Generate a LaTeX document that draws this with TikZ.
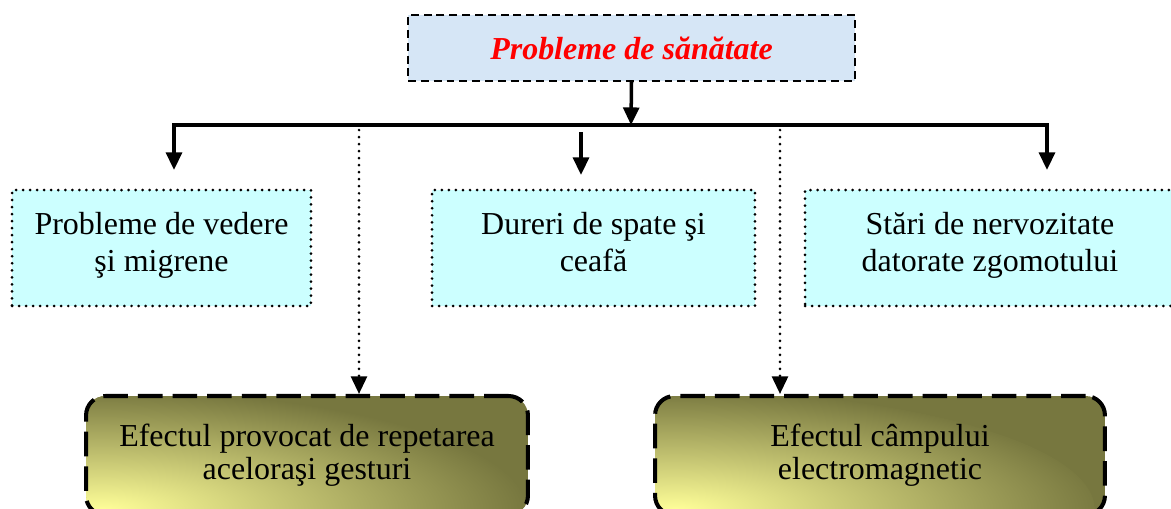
\documentclass[tikz,border=0pt]{standalone}
\usepackage{fontspec}
\setmainfont{Liberation Serif}
\usetikzlibrary{positioning,arrows.meta,calc}
\definecolor{lightcyan}{HTML}{CCFFFF}
\definecolor{paleblue}{HTML}{D6E6F6}
\definecolor{olivebox}{HTML}{77773F}
\definecolor{paleyellow}{HTML}{FFFF99}

\begin{document}
\begin{tikzpicture}[x=0.02cm, y=-0.02cm,
    every node/.style={font=\fontsize{18.2}{21}\selectfont, align=center},
    arr/.style={line width=2pt, -{Triangle[length=10pt,width=9pt]}},
    dotarr/.style={line width=1.7pt, line cap=round, dash pattern=on 0pt off 4pt, -{Triangle[length=10pt,width=9pt]}},
    titlebox/.style={draw, fill=paleblue, line width=1.2pt, dash pattern=on 4.5pt off 2.8pt, minimum width=8.94cm, minimum height=1.32cm},
    cyanbox/.style={draw, fill=lightcyan, line width=1.7pt, line cap=round, dash pattern=on 0pt off 4pt, minimum height=2.32cm, text depth=7pt},
    effectbox/.style={draw, fill=olivebox, line width=2.3pt, dash pattern=on 14pt off 5.7pt, rounded corners=11pt, minimum height=2.38cm, font=\fontsize{18.2}{19}\selectfont, text depth=4pt,
      path picture={\shade[inner color=paleyellow, outer color=olivebox]
        ($(path picture bounding box.south west)+(0.3cm,0.1cm)$) ellipse (8.5cm and 2.4cm);}}]
      \useasboundingbox (0,0) rectangle (1171,508);

      \node[titlebox] (title) at (631.5,48) {\textcolor{red}{\textbf{\textit{Probleme de sănătate}}}};

      \node[cyanbox, minimum width=5.98cm] (vedere) at (161.5,248) {Probleme de vedere\\ şi migrene};
      \node[cyanbox, minimum width=6.46cm] (spate) at (593.5,248) {Dureri de spate şi\\ ceafă};
      \node[cyanbox, minimum width=7.4cm] (nerv) at (990,248) {Stări de nervozitate\\ datorate zgomotului};

      \node[effectbox, minimum width=8.84cm] (gesturi) at (307,455.5) {Efectul provocat de repetarea\\ aceloraşi gesturi};
      \node[effectbox, minimum width=9cm] (camp) at (880,455.5) {Efectul câmpului\\ electromagnetic};

      % bar and arrows
      \coordinate (hub) at (631,125);
      \coordinate (tipA) at (174,170);
      \coordinate (tipC) at (1047,170);
      \coordinate (midA) at (581,132);
      \coordinate (midB) at (581,175);
      \coordinate (dotA) at (359,130);
      \coordinate (dotB) at (780,130);

      \draw[arr] (title.south) -- (hub);
      \draw[arr] (hub) -| (tipA);
      \draw[arr] (hub) -| (tipC);
      \draw[arr] (midA) -- (midB);

      \draw[dotarr] (dotA) -- (dotA |- gesturi.north);
      \draw[dotarr] (dotB) -- (dotB |- camp.north);
    \end{tikzpicture}
\end{document}
